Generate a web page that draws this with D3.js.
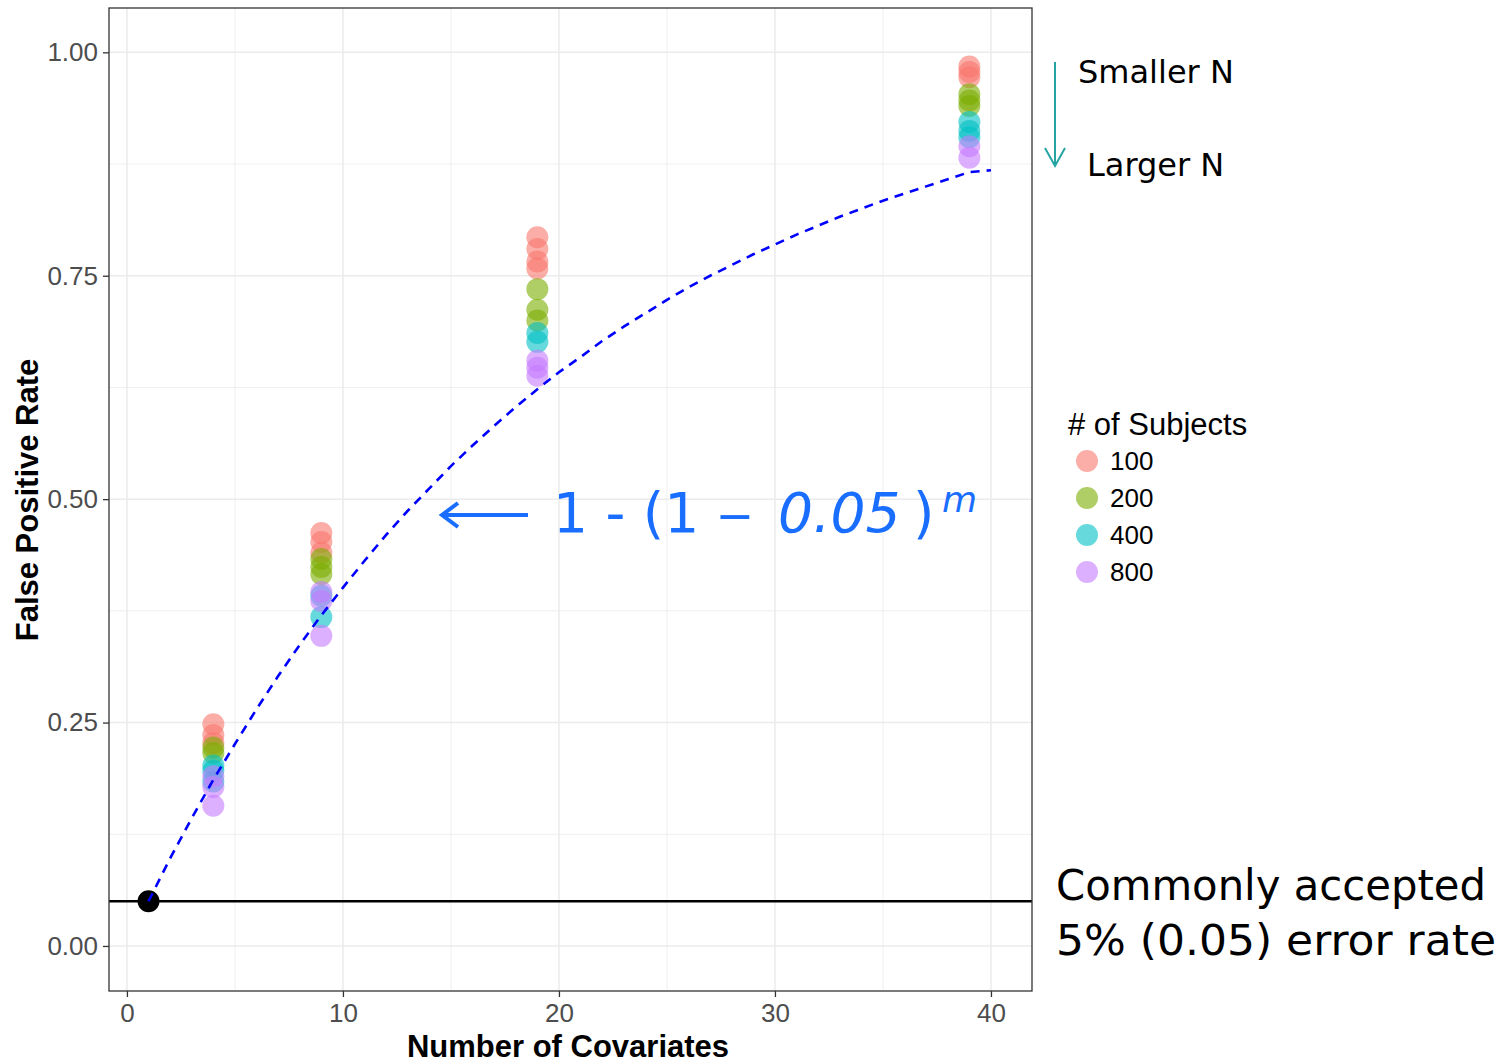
<!DOCTYPE html>
<html>
<head>
<meta charset="utf-8">
<script src="https://cdn.jsdelivr.net/npm/d3@7"></script>
<style>
  html, body { margin: 0; padding: 0; background: #fff; }
  svg { display: block; }
</style>
</head>
<body>
<svg id="chart" width="1512" height="1064"></svg>
<script>
// ---------------- data ----------------
const covariates = [4, 9, 19, 39];
const subjectLevels = ["100", "200", "400", "800"];
const subjectColors = ["#F8766D", "#7CAE00", "#00BFC4", "#C77CFF"];
// false positive rate per covariate count (several runs each)
const fpr100 = [[0.248, 0.236, 0.227], [0.462, 0.452, 0.440], [0.793, 0.780, 0.766, 0.758], [0.984, 0.978, 0.972]];
const fpr200 = [[0.222, 0.216], [0.433, 0.424, 0.416], [0.735, 0.712, 0.700], [0.953, 0.946, 0.940]];
const fpr400 = [[0.202, 0.196, 0.184], [0.368, 0.392], [0.686, 0.676], [0.922, 0.912, 0.905]];
const fpr800 = [[0.190, 0.178, 0.157], [0.396, 0.386, 0.347], [0.655, 0.647, 0.638], [0.895, 0.882]];
const baselinePoint = { m: 1, rate: 0.05 };
const errorRate = 0.05;
// expected family-wise rate (m = 1..40)
const curveM = [1,2,3,4,5,6,7,8,9,10,11,12,13,14,15,16,17,18,19,20,21,22,23,24,25,26,27,28,29,30,31,32,33,34,35,36,37,38,39,40];
const curveRate = [0.050,0.098,0.143,0.186,0.226,0.265,0.302,0.337,0.370,0.401,0.431,0.460,0.487,0.512,0.537,0.560,0.582,0.603,0.623,0.642,0.659,0.677,0.693,0.708,0.723,0.737,0.750,0.762,0.774,0.785,0.796,0.806,0.816,0.825,0.834,0.842,0.850,0.858,0.866,0.868];
const xTicks = [0, 10, 20, 30, 40];
const xMinor = [5, 15, 25, 35];
const yTicks = [0, 0.25, 0.5, 0.75, 1.0];
const yTickLabels = ["0.00", "0.25", "0.50", "0.75", "1.00"];
const yMinor = [0.125, 0.375, 0.625, 0.875];

const seriesBySubjects = [fpr100, fpr200, fpr400, fpr800];

// ---------------- layout ----------------
const svg = d3.select("#chart");
const panel = { left: 109, right: 1032, top: 8, bottom: 991 };
const x = d3.scaleLinear().domain([-0.83, 41.9]).range([panel.left, panel.right]);
const y = d3.scaleLinear().domain([-0.0504, 1.0496]).range([panel.bottom, panel.top]);

const g = svg.append("g");

// grid
g.selectAll(".ygridMinor").data(yMinor).enter().append("line")
  .attr("x1", panel.left).attr("x2", panel.right)
  .attr("y1", d => y(d)).attr("y2", d => y(d))
  .attr("stroke", "#EBEBEB").attr("stroke-width", 0.8);
g.selectAll(".xgridMinor").data(xMinor).enter().append("line")
  .attr("y1", panel.top).attr("y2", panel.bottom)
  .attr("x1", d => x(d)).attr("x2", d => x(d))
  .attr("stroke", "#EBEBEB").attr("stroke-width", 0.8);
g.selectAll(".ygrid").data(yTicks).enter().append("line")
  .attr("x1", panel.left).attr("x2", panel.right)
  .attr("y1", d => y(d)).attr("y2", d => y(d))
  .attr("stroke", "#EBEBEB").attr("stroke-width", 1.5);
g.selectAll(".xgrid").data(xTicks).enter().append("line")
  .attr("y1", panel.top).attr("y2", panel.bottom)
  .attr("x1", d => x(d)).attr("x2", d => x(d))
  .attr("stroke", "#EBEBEB").attr("stroke-width", 1.5);

// horizontal 0.05 line
g.append("line")
  .attr("x1", panel.left).attr("x2", panel.right)
  .attr("y1", y(errorRate)).attr("y2", y(errorRate))
  .attr("stroke", "#000").attr("stroke-width", 2.6);

// points
const pts = [];
seriesBySubjects.forEach((series, si) => {
  series.forEach((vals, ci) => {
    vals.forEach(v => pts.push({ m: covariates[ci], v, si }));
  });
});
g.selectAll(".pt").data(pts).enter().append("circle")
  .attr("cx", d => x(d.m)).attr("cy", d => y(d.v)).attr("r", 11)
  .attr("fill", d => subjectColors[d.si]).attr("fill-opacity", 0.6);

// baseline point
g.append("circle")
  .attr("cx", x(baselinePoint.m)).attr("cy", y(baselinePoint.rate)).attr("r", 11)
  .attr("fill", "#000");

// dashed curve
const line = d3.line().x((d, i) => x(curveM[i])).y(d => y(d));
g.append("path").datum(curveRate)
  .attr("d", line)
  .attr("fill", "none").attr("stroke", "#0000FF")
  .attr("stroke-width", 2.6).attr("stroke-dasharray", "9,7");

// panel border
g.append("rect")
  .attr("x", panel.left).attr("y", panel.top)
  .attr("width", panel.right - panel.left).attr("height", panel.bottom - panel.top)
  .attr("fill", "none").attr("stroke", "#333333").attr("stroke-width", 1.3);

// axes
const yAxis = d3.axisLeft(y).tickValues(yTicks).tickSize(6).tickPadding(5)
  .tickFormat((d, i) => yTickLabels[i]);
const yg = svg.append("g").attr("transform", `translate(${panel.left},0)`).call(yAxis);
yg.select(".domain").remove();
yg.selectAll(".tick line").attr("stroke", "#333333").attr("stroke-width", 1.3);
yg.selectAll(".tick text").attr("fill", "#4D4D4D")
  .style("font-family", "'Liberation Sans', Arial, sans-serif").style("font-size", "26px");

const xAxis = d3.axisBottom(x).tickValues(xTicks).tickSize(6).tickPadding(7);
const xg = svg.append("g").attr("transform", `translate(0,${panel.bottom})`).call(xAxis);
xg.select(".domain").remove();
xg.selectAll(".tick line").attr("stroke", "#333333").attr("stroke-width", 1.3);
xg.selectAll(".tick text").attr("fill", "#4D4D4D")
  .style("font-family", "'Liberation Sans', Arial, sans-serif").style("font-size", "26px");

// axis titles
svg.append("text")
  .attr("x", 568).attr("y", 1057).attr("text-anchor", "middle")
  .style("font-family", "'Liberation Sans', Arial, sans-serif").style("font-size", "31px")
  .style("font-weight", "bold").attr("fill", "#000")
  .text("Number of Covariates");
svg.append("text")
  .attr("transform", "translate(38,500) rotate(-90)").attr("text-anchor", "middle")
  .style("font-family", "'Liberation Sans', Arial, sans-serif").style("font-size", "31px")
  .style("font-weight", "bold").attr("fill", "#000")
  .text("False Positive Rate");

// legend
const lg = svg.append("g");
lg.append("text").attr("x", 1068).attr("y", 435)
  .style("font-family", "'Liberation Sans', Arial, sans-serif").style("font-size", "31px")
  .attr("fill", "#000").text("# of Subjects");
const legendY = d3.scalePoint().domain(subjectLevels).range([461, 572]);
subjectLevels.forEach((s, i) => {
  lg.append("circle").attr("cx", 1087).attr("cy", legendY(s)).attr("r", 11)
    .attr("fill", subjectColors[i]).attr("fill-opacity", 0.6);
  lg.append("text").attr("x", 1110).attr("y", legendY(s)).attr("dy", "0.35em")
    .style("font-family", "'Liberation Sans', Arial, sans-serif").style("font-size", "26px")
    .attr("fill", "#000").text(s);
});

// annotations: Smaller N / Larger N
const ann = svg.append("g").style("font-family", "'DejaVu Sans', Verdana, sans-serif");
ann.append("text").attr("x", 1078).attr("y", 83).style("font-size", "32px").attr("fill", "#000").text("Smaller N");
ann.append("text").attr("x", 1087).attr("y", 176).style("font-size", "32px").attr("fill", "#000").text("Larger N");
ann.append("line").attr("x1", 1055).attr("x2", 1055).attr("y1", 62).attr("y2", 166)
  .attr("stroke", "#26A3A3").attr("stroke-width", 2);
ann.append("path").attr("d", "M1045,148 L1055,166 L1065,148")
  .attr("fill", "none").attr("stroke", "#26A3A3").attr("stroke-width", 2);

// formula annotation
const blue = "#1A6EFF";
ann.append("line").attr("x1", 443).attr("x2", 528).attr("y1", 515).attr("y2", 515)
  .attr("stroke", blue).attr("stroke-width", 4);
ann.append("path").attr("d", "M458,503 L442,515 L458,527")
  .attr("fill", "none").attr("stroke", blue).attr("stroke-width", 4);
const ft = ann.append("text").attr("y", 532)
  .style("font-size", "55px").attr("fill", blue);
ft.append("tspan").attr("x", 553).text("1 - (1");
ft.append("tspan").attr("x", 778).style("font-style", "italic").text("0.05");
ft.append("tspan").attr("x", 913).text(")");
ft.append("tspan").attr("x", 942).attr("dy", -20).style("font-style", "italic").style("font-size", "36px").text("m");
// wide dash
ann.append("text").attr("transform", "translate(717,532) scale(1.3,1)")
  .style("font-size", "55px").attr("fill", blue).text("\u2013");

// error rate annotation
ann.append("text").attr("x", 1056).attr("y", 900).style("font-size", "42px").attr("fill", "#000")
  .attr("textLength", 430).attr("lengthAdjust", "spacingAndGlyphs").text("Commonly accepted");
ann.append("text").attr("x", 1056).attr("y", 955).style("font-size", "42px").attr("fill", "#000")
  .attr("textLength", 440).attr("lengthAdjust", "spacingAndGlyphs").text("5% (0.05) error rate");
</script>
</body>
</html>
